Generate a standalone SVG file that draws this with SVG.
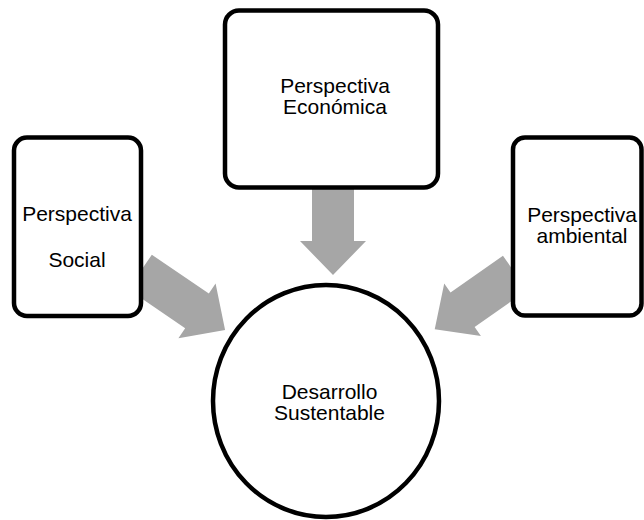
<svg xmlns="http://www.w3.org/2000/svg" width="644" height="520" viewBox="0 0 644 520">
<style>
.box{fill:#fff;stroke:#000;stroke-width:4.5}
.arr{fill:#a6a6a6;stroke:none}
text{font-family:"Liberation Sans",Arial,sans-serif;font-size:21px;fill:#000;text-anchor:middle}
</style>
<rect width="644" height="520" fill="#fff"/>
<g id="connectors">
<polygon class="arr" transform="translate(140,272) rotate(34.3)" points="0,-21 69,-21 69,-33 103,0 69,33 69,21 0,21"/>
<polygon class="arr" transform="translate(333,186) rotate(90)" points="0,-21 55,-21 55,-33 89,0 55,33 55,21 0,21"/>
<polygon class="arr" transform="translate(515,273) rotate(145)" points="0,-21 64,-21 64,-32 98,0 64,32 64,21 0,21"/>
</g>
<g id="social">
<rect class="box" x="14" y="137.5" width="127" height="178.5" rx="13"/>
<text x="77" y="221">Perspectiva</text>
<text x="77" y="267">Social</text>
</g>
<g id="economica">
<rect class="box" x="225" y="10.5" width="213" height="177" rx="14"/>
<text x="335" y="93">Perspectiva</text>
<text x="335" y="114">Económica</text>
</g>
<g id="ambiental">
<rect class="box" x="513" y="137.5" width="128.5" height="178" rx="12"/>
<text x="582" y="222">Perspectiva</text>
<text x="582" y="243">ambiental</text>
</g>
<g id="desarrollo">
<ellipse class="box" cx="326" cy="401" rx="113" ry="116"/>
<text x="329.5" y="399">Desarrollo</text>
<text x="329.5" y="420">Sustentable</text>
</g>
</svg>
